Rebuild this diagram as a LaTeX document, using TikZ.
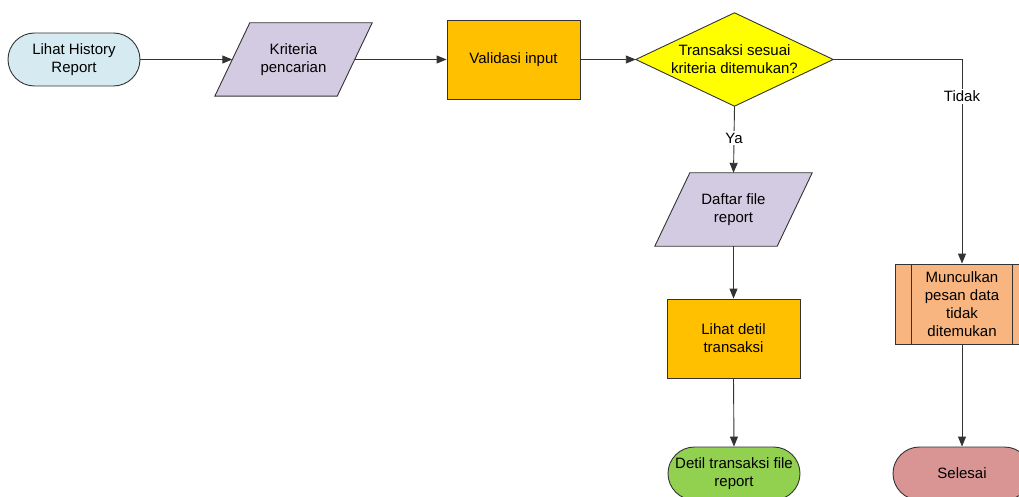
\documentclass[tikz,border=0pt]{standalone}
\usepackage{fontspec}
\setmainfont{Liberation Sans}
\usetikzlibrary{arrows.meta,backgrounds,calc}

\definecolor{cStart}{HTML}{D5EBF1}
\definecolor{cIO}{HTML}{D2CBE1}
\definecolor{cProc}{HTML}{FFC000}
\definecolor{cDec}{HTML}{FFFF00}
\definecolor{cSub}{HTML}{F8B57F}
\definecolor{cOut}{HTML}{92D050}
\definecolor{cEnd}{HTML}{D99594}
\definecolor{cLine}{HTML}{333333}

\tikzset{
  base/.style={font=\fontsize{15}{18}\selectfont, align=center, inner sep=0pt},
  border/.style={draw=cLine, line width=0.9pt},
  terminal/.style={base, border, minimum height=53pt, rounded corners=26.5pt},
  procbox/.style={base, border, fill=cProc, minimum width=133pt, minimum height=79pt},
  iobox/.style={base, minimum width=122pt, minimum height=73pt},
  decbox/.style={base, minimum width=197pt, minimum height=93pt},
  subbox/.style={base, border, fill=cSub, minimum width=134pt, minimum height=80pt},
  flow/.style={draw=cLine, line width=0.9pt, -{Triangle[length=10pt,width=8pt]}},
  lbl/.style={base, fill=white, inner sep=2pt}
}

\begin{document}
\begin{tikzpicture}[x=1pt, y=-1pt]
  \useasboundingbox (0,0) rectangle (1019,497);
  \clip (0,0) rectangle (1019,497);

  % nodes
  \node[terminal, fill=cStart, minimum width=132pt] (start) at (74,59.5) {Lihat History\\Report};
  \node[iobox] (krit) at (293.5,59.5) {Kriteria\\pencarian};
  \node[procbox] (valid) at (513.5,59.5) {Validasi input};
  \node[decbox] (dec) at (734.5,59.5) {Transaksi sesuai\\kriteria ditemukan?};
  \node[iobox] (daftar) at (733.5,209.5) {Daftar file\\report};
  \node[procbox] (lihat) at (733.5,338.5) {Lihat detil\\transaksi};
  \node[terminal, fill=cOut, minimum width=132pt] (detil) at (734,473.5) {Detil transaksi file\\report};
  \node[subbox] (pesan) at (962,304) {Munculkan\\pesan data\\tidak\\ditemukan};
  \node[terminal, fill=cEnd, minimum width=138pt] (selesai) at (962,473.5) {Selesai};

  % inner bars of the predefined process
  \draw[border] ($(pesan.north west)+(17,0)$) -- ($(pesan.south west)+(17,0)$);
  \draw[border] ($(pesan.north east)+(-17,0)$) -- ($(pesan.south east)+(-17,0)$);

  % slanted and diamond outlines behind the text
  \begin{scope}[on background layer]
    \foreach \n in {krit,daftar}{
      \filldraw[border, fill=cIO]
        ($(\n.north west)+(17.5,0)$) -- ($(\n.north east)+(17.5,0)$) --
        ($(\n.south east)+(-17.5,0)$) -- ($(\n.south west)+(-17.5,0)$) -- cycle;
    }
    \filldraw[border, fill=cDec] (dec.west) -- (dec.north) -- (dec.east) -- (dec.south) -- cycle;
  \end{scope}

  % connectors
  \draw[flow] (start.east) -- (krit.west);
  \draw[flow] (krit.east) -- (valid.west);
  \draw[flow] (valid.east) -- (dec.west);
  \draw[flow] (dec.south) -- node[lbl, pos=0.48] {Ya} (daftar.north);
  \draw[flow] (daftar.south) -- (lihat.north);
  \draw[flow] (lihat.south) -- (detil.north);
  \draw[flow] (dec.east) -| node[lbl, pos=0.59] {Tidak} (pesan.north);
  \draw[flow] (pesan.south) -- (selesai.north);
\end{tikzpicture}
\end{document}
